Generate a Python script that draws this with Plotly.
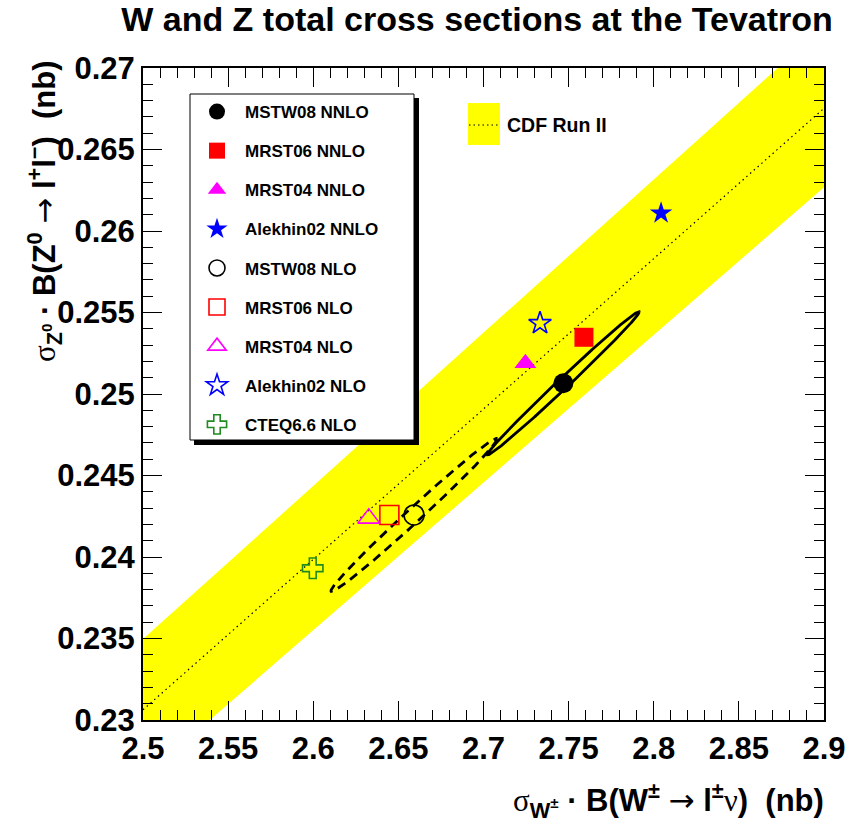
import numpy as np
import plotly.graph_objects as go

# ---------------- data ----------------
pdf_names = ["MSTW08 NNLO", "MRST06 NNLO", "MRST04 NNLO", "Alekhin02 NNLO",
             "MSTW08 NLO", "MRST06 NLO", "MRST04 NLO", "Alekhin02 NLO", "CTEQ6.6 NLO"]
sigma_w = [2.7469, 2.7590, 2.7246, 2.8043, 2.6592, 2.6447, 2.6326, 2.7332, 2.5997]   # nb
sigma_z = [0.25066, 0.25348, 0.25188, 0.26110, 0.24258, 0.24258, 0.24237, 0.25434, 0.23931]  # nb

# MSTW08 uncertainty ellipses (NNLO, NLO)
ell_index = [0, 4]
ell_err_w = [0.0446, 0.0488]
ell_err_z = [0.0044, 0.0047]
ell_rho = [0.995, 0.992]

# CDF Run II ratio R = sigma_W B / sigma_Z B
cdf_ratio = 10.84
cdf_ratio_err = 0.20

x_range = [2.5, 2.9]
y_range = [0.23, 0.27]
x_tick_vals = [2.5, 2.55, 2.6, 2.65, 2.7, 2.75, 2.8, 2.85, 2.9]
x_tick_text = ["2.5", "2.55", "2.6", "2.65", "2.7", "2.75", "2.8", "2.85", "2.9"]
y_tick_vals = [0.23, 0.235, 0.24, 0.245, 0.25, 0.255, 0.26, 0.265, 0.27]
y_tick_text = ["0.23", "0.235", "0.24", "0.245", "0.25", "0.255", "0.26", "0.265", "0.27"]

# ---------------- styles ----------------
sym = ["circle", "square", "triangle-up", "star", "circle-open", "square-open",
       "triangle-up-open", "star-open", "cross-open"]
col = ["black", "#ff0000", "#ff00ff", "#0000ff", "black", "#ff0000", "#ff00ff", "#0000ff", "#1f8a1f"]
msize = [20, 19, 19, 17, 20, 19, 19, 17, 17]
ell_dash = ["solid", "9px,6px"]

FONT = "Liberation Sans, Arial, Helvetica, sans-serif"
SERIF = "Liberation Serif, Times New Roman, serif"

fig = go.Figure()

# CDF band
xe = np.array(x_range)
band_x = np.concatenate([xe, xe[::-1]])
band_y = np.concatenate([xe / (cdf_ratio - cdf_ratio_err), (xe / (cdf_ratio + cdf_ratio_err))[::-1]])
fig.add_trace(go.Scatter(x=band_x, y=band_y, fill="toself", fillcolor="#ffff00",
                         line=dict(width=0), mode="lines", showlegend=False, hoverinfo="skip"))
fig.add_trace(go.Scatter(x=xe, y=xe / cdf_ratio, mode="lines",
                         line=dict(color="black", width=1.2, dash="1.5px,3.5px"),
                         showlegend=False, hoverinfo="skip"))

# ellipses
t = np.linspace(0, 2 * np.pi, 361)
for k, idx in enumerate(ell_index):
    theta = np.arccos(ell_rho[k])
    ex = sigma_w[idx] + ell_err_w[k] * np.cos(t)
    ey = sigma_z[idx] + ell_err_z[k] * np.cos(t + theta)
    fig.add_trace(go.Scatter(x=ex, y=ey, mode="lines",
                             line=dict(color="black", width=2.8, dash=ell_dash[k]),
                             showlegend=False, hoverinfo="skip"))

# points
for i, nm in enumerate(pdf_names):
    is_open = sym[i].endswith("open")
    fig.add_trace(go.Scatter(
        x=[sigma_w[i]], y=[sigma_z[i]], mode="markers", name=nm, legendgroup=nm,
        marker=dict(symbol=sym[i], size=msize[i], color=col[i],
                    line=dict(width=1.6 if is_open else 0, color=col[i])),
        cliponaxis=False))

# pixel -> paper helpers (layout only)
L, R, T, B, W, H = 143, 22, 68, 110, 846, 830
PW, PH = W - L - R, H - T - B
def px(xp):
    return (xp - L) / PW
def py(yp):
    return (H - B - yp) / PH

shapes = [
    # legend shadow + box
    dict(type="rect", xref="paper", yref="paper", x0=px(194), x1=px(419), y0=py(445), y1=py(98),
         fillcolor="black", line=dict(width=0), layer="above"),
    dict(type="rect", xref="paper", yref="paper", x0=px(190), x1=px(414), y0=py(440), y1=py(94),
         fillcolor="white", line=dict(width=1, color="black"), layer="above"),
    # CDF key
    dict(type="rect", xref="paper", yref="paper", x0=px(468), x1=px(500), y0=py(145), y1=py(103),
         fillcolor="#ffff00", line=dict(width=0), layer="above"),
    dict(type="line", xref="paper", yref="paper", x0=px(469), x1=px(500), y0=py(125), y1=py(125),
         line=dict(color="black", width=1.2, dash="1.5px,3px"), layer="above"),
]

sig = f'<span style="font-family:{SERIF};font-weight:normal">σ</span>'
nu = f'<span style="font-family:{SERIF};font-weight:normal">ν</span>'
arrow = '<span style="font-family:DejaVu Sans;font-weight:normal">→</span>'
ytitle = (sig + "<sub>Z<sup>0</sup></sub> · B(Z<sup>0</sup> " + arrow +
          " l<sup>+</sup>l<sup>−</sup>)\u00a0\u00a0(nb)")
xtitle = (sig + "<sub>W<sup>±</sup></sub> · B(W<sup>±</sup> " + arrow +
          " l<sup>±</sup>" + nu + ")\u00a0\u00a0(nb)")

annotations = [
    dict(text="CDF Run II", xref="paper", yref="paper", x=px(505), y=py(125),
         xanchor="left", yanchor="middle", showarrow=False,
         font=dict(family=FONT, size=19.5, color="black", weight="bold")),
    dict(text=xtitle, xref="paper", yref="paper", x=px(826), y=py(800),
         xanchor="right", yanchor="middle", showarrow=False,
         font=dict(family=FONT, size=31, color="black", weight="bold")),
    dict(text=ytitle, xref="paper", yref="paper", x=px(44), y=py(58),
         xanchor="center", yanchor="top", showarrow=False, textangle=-90,
         font=dict(family=FONT, size=31, color="black", weight="bold")),
]

axis_common = dict(showline=True, linewidth=2, linecolor="black", mirror="ticks",
                   ticks="inside", ticklen=19, tickwidth=1, tickcolor="black",
                   showgrid=False, zeroline=False, automargin=False,
                   tickfont=dict(family=FONT, size=31, color="black", weight="bold"))

fig.update_layout(
    width=W, height=H, margin=dict(l=L, r=R, t=T, b=B, autoexpand=False),
    plot_bgcolor="white", paper_bgcolor="white",
    title=dict(text="W and Z total cross sections at the Tevatron", x=477 / W, xanchor="center",
               y=1 - 19 / H, yanchor="middle", yref="container",
               font=dict(family=FONT, size=34, color="black", weight="bold")),
    xaxis=dict(range=x_range, tickvals=x_tick_vals, ticktext=x_tick_text,
               minor=dict(ticks="inside", ticklen=10, dtick=0.01, tick0=2.5, tickwidth=1,
                          tickcolor="black", showgrid=False),
               **axis_common),
    yaxis=dict(range=y_range, tickvals=y_tick_vals, ticktext=y_tick_text,
               minor=dict(ticks="inside", ticklen=10, dtick=0.001, tick0=0.23, tickwidth=1,
                          tickcolor="black", showgrid=False),
               **axis_common),
    legend=dict(x=px(189), y=py(94), xanchor="left", yanchor="top",
                bgcolor="rgba(0,0,0,0)", borderwidth=0, itemwidth=46,
                tracegroupgap=14, itemclick=False,
                font=dict(family=FONT, size=17, color="black", weight="bold")),
    shapes=shapes, annotations=annotations, showlegend=True,
)

fig.write_html("out.html", config={"displayModeBar": False},
               post_script="document.body.style.margin='0';document.body.style.overflow='hidden';")
